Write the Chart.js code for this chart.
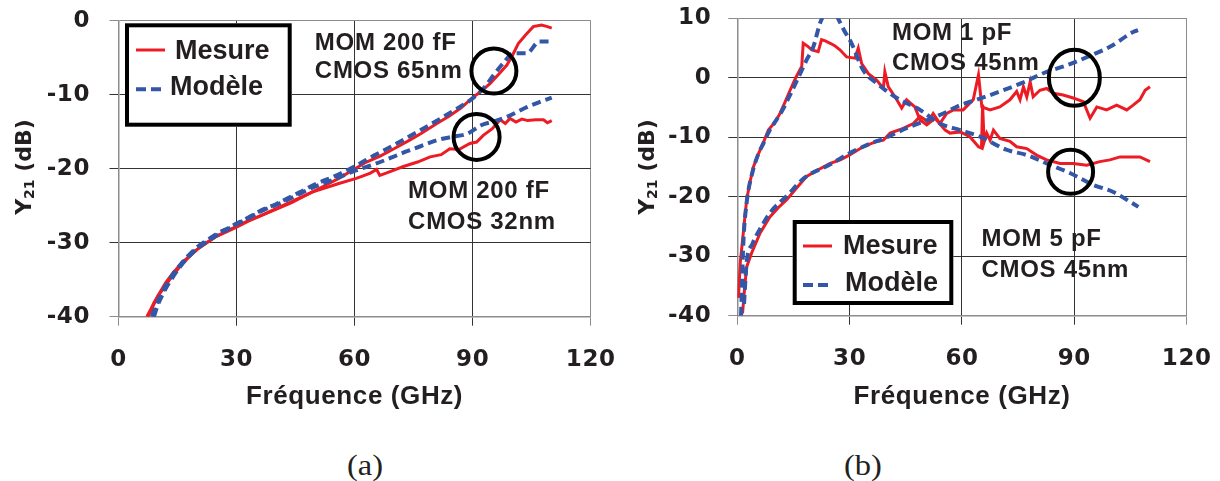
<!DOCTYPE html>
<html lang="fr">
<head>
<meta charset="UTF-8">
<title>Y21 - capacités MOM</title>
<script src="https://cdn.jsdelivr.net/npm/chart.js"></script>
<style>
  body { margin: 0; background: #fff; }
  .wrap { position: relative; width: 1220px; height: 481px; overflow: hidden; }
  #chartA { position: absolute; left: 0; top: 0; }
  #chartB { position: absolute; left: 610px; top: 0; }
  .cap { position: absolute; top: 449px; font: 29px "Liberation Serif", "Times New Roman", serif; color: #231f20; transform: translateX(-50%) scaleX(1.12); }
</style>
</head>
<body>
<div class="wrap">
  <canvas id="chartA" width="640" height="420" style="width:640px;height:420px"></canvas>
  <canvas id="chartB" width="610" height="420" style="width:610px;height:420px"></canvas>
  <div class="cap" style="left:365px">(a)</div>
  <div class="cap" style="left:863px">(b)</div>
</div>
<script>
// (a) MOM 200 fF, CMOS 65nm / 32nm
const fA65Mes = [7.2, 8, 9, 10, 11.4, 13, 14, 16, 18, 20, 22.4, 25, 28, 30, 33, 36.8, 40, 43, 45.3, 48.7, 52, 56, 60.4, 63, 66.5, 70, 74.1, 77, 80.9, 84, 87, 90, 92, 94.4, 96.5, 98.7, 100.2, 101.6, 103.5, 105.4, 107.5, 109, 110.1];
const yA65Mes = [-40, -39.2, -38.1, -37.2, -36.2, -35, -34.3, -33, -31.9, -30.9, -30, -29.1, -28.4, -27.9, -27.1, -26.2, -25.4, -24.7, -24.1, -23.3, -22.4, -21.3, -19.9, -19.1, -18.3, -17.3, -16.1, -15.2, -13.9, -12.9, -11.8, -10.4, -9.6, -8.5, -7.3, -6.0, -4.6, -3.1, -1.9, -0.8, -0.6, -0.8, -1.0];
const fA65Mod = [8.5, 9, 10, 12, 14, 16, 18, 20, 22.4, 25, 28, 30, 33, 36.8, 40, 43, 46, 50, 55, 60, 65, 70, 75, 80, 85, 90, 93, 95.4, 98, 100.3, 103.7, 107, 110];
const yA65Mod = [-40, -39.2, -37.9, -35.8, -34.1, -32.8, -31.6, -30.6, -29.7, -28.8, -28.0, -27.4, -26.6, -25.5, -24.8, -24.0, -23.2, -22.1, -21.0, -19.7, -18.2, -16.8, -15.3, -13.8, -12.2, -10.5, -9.0, -7.3, -5.6, -4.4, -4.4, -2.8, -2.8];
const fA32Mes = [7.5, 8.5, 10, 12, 14, 16, 18, 20, 22.4, 25, 28, 30, 33, 36.8, 40, 44, 49, 52, 56, 60.4, 62, 64, 65.6, 66.4, 68, 72.4, 76, 79.2, 82, 84.2, 86.5, 89.3, 91, 92.7, 95, 97, 98.3, 99.5, 101, 102.5, 104, 106, 108, 109, 110.1];
const yA32Mes = [-40, -38.9, -37.2, -35.4, -34.0, -32.8, -31.8, -30.9, -30.0, -29.1, -28.3, -27.8, -27.0, -26.2, -25.5, -24.6, -23.2, -22.7, -22.0, -21.3, -21.0, -20.6, -20.1, -20.9, -20.6, -19.7, -19.1, -18.4, -18.1, -17.3, -17.4, -16.6, -16.4, -15.5, -14.6, -13.4, -13.9, -13.2, -13.7, -13.3, -13.5, -13.4, -13.4, -13.8, -13.5];
const fA32Mod = [9, 10, 12, 14, 16, 18, 20, 22.4, 25, 28, 30, 33, 36.8, 40, 43, 46, 50, 55, 60, 65, 69.8, 73, 76.6, 81.2, 84.7, 88.5, 92.3, 95.5, 98.7, 103.3, 106.5, 110.1];
const yA32Mod = [-40, -38.4, -36.2, -34.5, -33.0, -31.8, -30.8, -29.9, -29.0, -28.1, -27.5, -26.7, -25.6, -24.9, -24.2, -23.4, -22.4, -21.4, -20.3, -19.4, -18.4, -17.7, -17.0, -16.1, -15.7, -15.3, -14.1, -13.6, -13.0, -11.8, -11.1, -10.4];

// (b) MOM 1 pF / 5 pF, CMOS 45nm
const fB1Mes = [0.3, 0.8, 1.6, 2.5, 3.4, 4.3, 5.5, 6.9, 8.3, 10, 11.4, 12.8, 14.1, 15.6, 17.2, 17.6, 18.3, 19, 19.9, 21.6, 22.5, 23.5, 24.8, 26, 27.4, 29.2, 31.4, 32.3, 33.2, 35, 37.2, 39, 39.4, 40.3, 42.1, 43.9, 45.2, 47.4, 48.8, 50.6, 52.8, 55.5, 56.8, 59.5, 62.1, 64.4, 65.2, 65.5, 65.9, 66.6, 67.5, 68.4, 70.1, 72.8, 74.6, 77.3, 79.9, 82.6, 86.2, 89.7, 93.3, 96.8, 99.5, 102.2, 104.9, 107.5, 110.2];
const yB1Mes = [-37, -31, -26.1, -20.5, -17.5, -15, -13, -11, -8.8, -7.5, -6, -4, -2.1, 0, 1.9, 5.8, 5.5, 5.2, 4.7, 4.4, 6.4, 6.2, 5.8, 5.4, 4.7, 3.5, 3.3, 5, 2.4, 0.7, -0.4, -1.8, 1, -1.5, -3.2, -5.1, -3.7, -4.9, -7.1, -7.9, -6.8, -8.8, -9.3, -9.1, -9.9, -11.6, -11.8, -4.5, -10.8, -9.3, -10.5, -8.8, -10.2, -10.7, -11.6, -11.9, -13, -13.8, -14.4, -14.4, -14.7, -14.1, -13.8, -13.3, -13.3, -13.3, -14.1];
const fB1Mod = [1.0, 1.6, 2.5, 4, 5.5, 7, 8.5, 10, 12, 14, 17, 18.5, 20.3, 22.1, 23, 24.7, 26.5, 28.5, 30.5, 33.6, 37.2, 42.6, 48.8, 54.1, 59.5, 64.8, 71.9, 77.3, 82.6, 88.8, 95, 100.4, 104, 107.1];
const yB1Mod = [-40, -28, -21, -16, -13, -11, -9, -7.5, -5.5, -3, 1, 3, 5.2, 9.2, 10.5, 13, 10.5, 8, 5.8, 1.3, -0.9, -3.4, -5.4, -7.7, -8.8, -9.9, -12.1, -13, -14.4, -16, -18, -19.2, -20.5, -21.7];
const fB5Mes = [1.4, 2.0, 2.5, 3.8, 6.1, 8.7, 11, 13.2, 16, 18.5, 21.5, 24.8, 27.5, 29.9, 33.6, 37.2, 39, 40.8, 44.3, 47, 48.8, 51, 52.3, 54.1, 55.9, 57.7, 60.3, 63, 64.4, 65.3, 67.5, 70.1, 72.8, 74.6, 75.5, 76.4, 77.3, 78.2, 79, 80.8, 82.6, 84.4, 87, 89.7, 92.4, 94.2, 96, 98.6, 101.3, 104, 105.7, 107.5, 108.9, 110.2];
const yB5Mes = [-39.6, -35, -31.8, -29.5, -26.1, -23.4, -21.8, -20.5, -18.4, -16.6, -15.5, -14.4, -13.8, -13, -11.6, -10.7, -10.5, -9.3, -8.5, -7.7, -6.5, -7.4, -6, -7.7, -6, -5.4, -5.4, -3.7, 0.5, -4.9, -5.4, -4.9, -3.7, -2.3, -3.7, -1.5, -3.2, -0.7, -3.2, -2.1, -1.8, -2.6, -2.9, -3.4, -4, -6.8, -4.9, -5.4, -4.6, -5.4, -4.6, -3.7, -2.1, -1.5];
const fB5Mod = [1.8, 2.5, 4, 6, 9, 13, 18, 25, 29.9, 35, 40, 45, 50, 55, 59.5, 63.9, 71, 75.9, 82.6, 88, 94.6, 99.5, 105.7, 107];
const yB5Mod = [-38, -31, -28, -25.5, -22.5, -20, -16.8, -14.5, -12.7, -11.2, -10, -8.5, -7.3, -6, -4.6, -3.7, -2.1, -0.9, 1.0, 2.1, 3.8, 5.2, 7.7, 8.0];

const xTicks = [0, 30, 60, 90, 120];
const yTicksA = [0, -10, -20, -30, -40];
const yTicksB = [10, 0, -10, -20, -30, -40];
const seriesNames = ['Mesure', 'Modèle'];

const RED = '#ed1c24';
const BLUE = '#3456a6';
const INK = '#231f20';
const GRID = '#333333';
const EDGE = '#8c8c8c';
const FONT = '"Liberation Sans", Arial, sans-serif';
const WIDE = '"DejaVu Sans", Verdana, sans-serif';

const pts = (xs, ys) => xs.map((x, i) => ({ x: x, y: ys[i] }));

function mesure(xs, ys) {
  return { data: pts(xs, ys), borderColor: RED, borderWidth: 3, pointRadius: 0, tension: 0, clip: 0 };
}
function modele(xs, ys) {
  return { data: pts(xs, ys), borderColor: BLUE, borderWidth: 4, borderDash: [9, 5], pointRadius: 0,
           cubicInterpolationMode: 'monotone', clip: 0 };
}

function drawYTitle(ctx, t) {
  const parts = [['Y', 'bold 22px ' + WIDE, 0], ['21', 'bold 14px ' + WIDE, 5], [' (dB)', 'bold 22px ' + WIDE, 0]];
  ctx.save();
  ctx.translate(t.x, t.y);
  ctx.rotate(-Math.PI / 2);
  ctx.fillStyle = INK;
  ctx.textBaseline = 'middle';
  ctx.textAlign = 'left';
  ctx.letterSpacing = '0px';
  let w = 0;
  parts.forEach(p => { ctx.font = p[1]; w += ctx.measureText(p[0]).width; });
  let x = -w / 2;
  parts.forEach(p => { ctx.font = p[1]; ctx.fillText(p[0], x, p[2]); x += ctx.measureText(p[0]).width; });
  ctx.restore();
}

function drawLegend(ctx, L) {
  ctx.save();
  ctx.fillStyle = '#fff';
  ctx.fillRect(L.box[0], L.box[1], L.box[2] - L.box[0], L.box[3] - L.box[1]);
  ctx.strokeStyle = '#000';
  ctx.lineWidth = 4;
  ctx.strokeRect(L.box[0] + 2, L.box[1] + 2, L.box[2] - L.box[0] - 4, L.box[3] - L.box[1] - 4);

  ctx.strokeStyle = RED;
  ctx.lineWidth = 3;
  ctx.beginPath();
  ctx.moveTo(L.red[0], L.red[2]);
  ctx.lineTo(L.red[1], L.red[2]);
  ctx.stroke();

  ctx.strokeStyle = BLUE;
  ctx.lineWidth = 4;
  ctx.setLineDash([10, 5]);
  ctx.beginPath();
  ctx.moveTo(L.blue[0], L.blue[2]);
  ctx.lineTo(L.blue[1], L.blue[2]);
  ctx.stroke();
  ctx.setLineDash([]);

  ctx.fillStyle = INK;
  ctx.font = 'bold 27px ' + FONT;
  ctx.textBaseline = 'middle';
  ctx.textAlign = 'left';
  ctx.letterSpacing = '0px';
  ctx.fillText(seriesNames[0], L.t1[0], L.t1[1]);
  ctx.fillText(seriesNames[1], L.t2[0], L.t2[1]);
  ctx.restore();
}

const decor = {
  id: 'decor',
  beforeDraw(chart) {
    chart.ctx.letterSpacing = '0.6px';
  },
  afterDraw(chart, args, o) {
    const ctx = chart.ctx;
    const sx = chart.scales.x, sy = chart.scales.y;

    ctx.save();
    ctx.strokeStyle = '#000';
    ctx.lineWidth = 4;
    o.rings.forEach(r => {
      ctx.beginPath();
      ctx.ellipse(sx.getPixelForValue(r.x), sy.getPixelForValue(r.y), r.rx, r.ry, 0, 0, Math.PI * 2);
      ctx.stroke();
    });

    ctx.fillStyle = INK;
    ctx.font = 'bold 24px ' + FONT;
    ctx.letterSpacing = '0.7px';
    ctx.textBaseline = 'middle';
    ctx.textAlign = 'left';
    o.notes.forEach(n => {
      ctx.fillText(n.text, sx.getPixelForValue(n.x), sy.getPixelForValue(n.y));
    });
    ctx.restore();

    drawLegend(ctx, o.legend);
    drawYTitle(ctx, o.yTitle);
  }
};

function makeChart(id, datasets, yTicks, lay, deco) {
  const yMin = Math.min(...yTicks), yMax = Math.max(...yTicks);
  const xMin = Math.min(...xTicks), xMax = Math.max(...xTicks);
  const tickFont = { family: WIDE, size: 23, weight: 'bold' };
  return new Chart(document.getElementById(id), {
    type: 'line',
    data: { datasets: datasets },
    plugins: [decor],
    options: {
      responsive: false,
      animation: false,
      events: [],
      layout: { padding: { left: 0, right: lay.right, top: lay.top, bottom: 0 } },
      plugins: { legend: { display: false }, tooltip: { enabled: false }, decor: deco },
      scales: {
        x: {
          type: 'linear', min: xMin, max: xMax,
          afterBuildTicks: s => { s.ticks = xTicks.map(v => ({ value: v })); },
          afterFit: s => { s.height = lay.xH; s.paddingLeft = 0; s.paddingRight = 0; },
          ticks: { font: tickFont, color: INK, padding: 21, maxRotation: 0, autoSkip: false, callback: v => String(v) },
          grid: { color: c => (c.tick && (c.tick.value === xMax || c.tick.value === xMin)) ? EDGE : GRID, lineWidth: 1, tickLength: 9 },
          border: { color: EDGE, width: 1.5 },
          title: { display: true, text: 'Fréquence (GHz)', color: INK,
                   font: { family: FONT, size: 26, weight: 'bold' }, padding: { top: 0, bottom: 8 } }
        },
        y: {
          type: 'linear', min: yMin, max: yMax,
          afterBuildTicks: s => { s.ticks = yTicks.map(v => ({ value: v })); },
          afterFit: s => { s.width = lay.yW; s.paddingTop = 0; s.paddingBottom = 0; },
          ticks: { font: tickFont, color: INK, padding: lay.yPad, callback: v => String(v) },
          grid: { color: c => (c.tick && (c.tick.value === yMax || c.tick.value === yMin)) ? EDGE : GRID, lineWidth: 1, tickLength: 9 },
          border: { color: EDGE, width: 1.5 }
        }
      }
    }
  });
}

makeChart('chartA',
  [modele(fA65Mod, yA65Mod), modele(fA32Mod, yA32Mod), mesure(fA65Mes, yA65Mes), mesure(fA32Mes, yA32Mes)],
  yTicksA,
  { right: 49.3, top: 20.7, yW: 118.5, xH: 103.3, yPad: 19.5 },
  {
    yTitle: { x: 25, y: 167 },
    legend: { box: [125, 23.3, 291.7, 126.7], red: [136, 165, 50], t1: [175, 51.7], blue: [136, 161, 89.3], t2: [170, 87.7] },
    notes: [
      { x: 49.9, y: -3.05, text: 'MOM 200 fF' },
      { x: 49.9, y: -6.9, text: 'CMOS 65nm' },
      { x: 73.6, y: -23.1, text: 'MOM 200 fF' },
      { x: 73.6, y: -27.2, text: 'CMOS 32nm' }
    ],
    rings: [{ x: 95.4, y: -6.8, rx: 22.5, ry: 22.5 }, { x: 91.0, y: -15.7, rx: 23, ry: 23 }]
  });

makeChart('chartB',
  [modele(fB1Mod, yB1Mod), modele(fB5Mod, yB5Mod), mesure(fB1Mes, yB1Mes), mesure(fB5Mes, yB5Mes)],
  yTicksB,
  { right: 33.3, top: 18.3, yW: 127.3, xH: 104.3, yPad: 17 },
  {
    yTitle: { x: 38, y: 167 },
    legend: { box: [182.7, 220, 343.3, 305], red: [193, 222, 246], t1: [233, 246.7], blue: [193, 218, 285], t2: [235, 284] },
    notes: [
      { x: 41.3, y: 7.48, text: 'MOM 1 pF' },
      { x: 41.3, y: 2.43, text: 'CMOS 45nm' },
      { x: 65.2, y: -27.15, text: 'MOM 5 pF' },
      { x: 65.2, y: -32.3, text: 'CMOS 45nm' }
    ],
    rings: [{ x: 90, y: 0, rx: 25.5, ry: 28 }, { x: 89, y: -15.8, rx: 22.5, ry: 22 }]
  });
</script>
</body>
</html>
